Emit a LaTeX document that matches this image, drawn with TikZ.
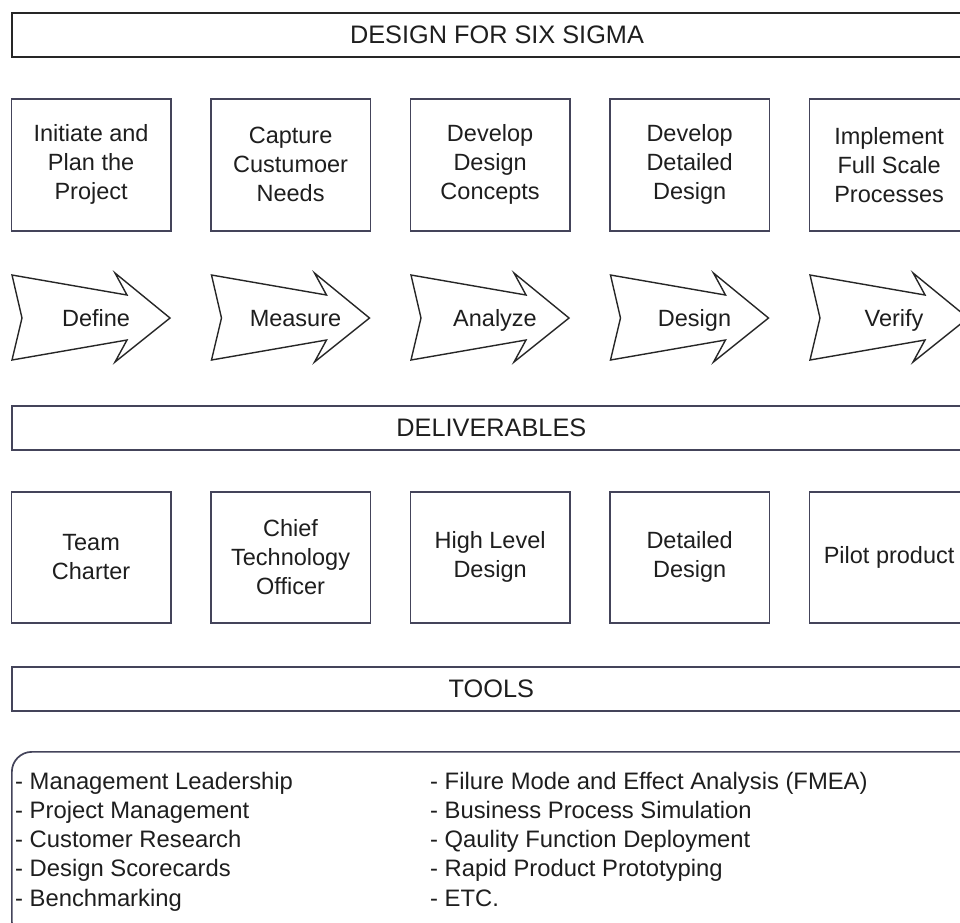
\documentclass[tikz,border=0pt]{standalone}
\usepackage{fontspec}
\setmainfont{Liberation Sans}
\definecolor{edge}{HTML}{44445A}
\definecolor{ink}{HTML}{1E1E1E}
\begin{document}
\begin{tikzpicture}[x=1pt,y=-1pt,
  every node/.style={text=ink, font=\fontsize{23.5}{29}\selectfont},
  bar/.style={draw=edge, line width=1.7pt, minimum width=959pt, minimum height=44pt, inner sep=0pt, anchor=north west, font=\fontsize{25.3}{30}\selectfont},
  stagebox/.style={draw=edge, line width=1.7pt, minimum width=159.5pt, minimum height=132pt, anchor=north west, align=center, inner sep=0pt},
  chevron/.style={draw=black!85, line width=1.4pt, fill=white, line join=miter},
  lbl/.style={inner sep=0pt, anchor=base},
  toolline/.style={inner sep=0pt, anchor=base west, font=\fontsize{23.8}{29}\selectfont}
]
\useasboundingbox (0,0) rectangle (960,922);

% top title bar
\node[bar, draw=black!85, line width=2pt, minimum width=970pt] (title) at (11,12) {DESIGN FOR SIX SIGMA};

% stage boxes
\node[stagebox] (p1) at (10.5,98) {Initiate and\\Plan the\\Project};
\node[stagebox] (p2) at (210,98) {Capture\\Custumoer\\Needs};
\node[stagebox] (p3) at (409.5,98) {Develop\\Design\\Concepts};
\node[stagebox] (p4) at (609,98) {Develop\\Detailed\\Design};
\node[stagebox] (p5) at (808.5,98) {Implement\\Full Scale\\Processes};

% chevron arrows
\foreach \i/\txt in {0/Define,1/Measure,2/Analyze,3/Design,4/Verify}{
  \begin{scope}[xshift=\i*199.5pt]
    \draw[chevron] (12,275) -- (127,295) -- (115,273) -- (170,318) -- (115,362)
       -- (127,340) -- (12,360) -- (22,318) -- cycle;
    \node[lbl] (a\i) at (96,326.5) {\txt};
  \end{scope}
}

% deliverables bar
\node[bar] (deliv) at (11,405) {DELIVERABLES};

% deliverable boxes
\node[stagebox, minimum height=131pt] (d1) at (10.5,491) {Team\\Charter};
\node[stagebox, minimum height=131pt] (d2) at (210,491) {Chief\\Technology\\Officer};
\node[stagebox, minimum height=131pt] (d3) at (409.5,491) {High Level\\Design};
\node[stagebox, minimum height=131pt] (d4) at (609,491) {Detailed\\Design};
\node[stagebox, minimum height=131pt] (d5) at (808.5,491) {Pilot product};

% tools bar
\node[bar] (tools) at (11,666) {TOOLS};

% tools box
\node[draw=edge, line width=1.7pt, rounded corners=20pt, minimum width=970pt, minimum height=190pt, anchor=north west, inner sep=0pt] (toolsbox) at (11,751) {};

\node[toolline] (t1) at (15,789) {- Management Leadership};
\node[toolline] (t2) at (15,818.3) {- Project Management};
\node[toolline] (t3) at (15,847.6) {- Customer Research};
\node[toolline] (t4) at (15,876.9) {- Design Scorecards};
\node[toolline] (t5) at (15,906.2) {- Benchmarking};
\node[toolline] (t6) at (430,789) {- Filure Mode and Effect Analysis (FMEA)};
\node[toolline] (t7) at (430,818.3) {- Business Process Simulation};
\node[toolline] (t8) at (430,847.6) {- Qaulity Function Deployment};
\node[toolline] (t9) at (430,876.9) {- Rapid Product Prototyping};
\node[toolline] (t10) at (430,906.2) {- ETC.};
\end{tikzpicture}
\end{document}
